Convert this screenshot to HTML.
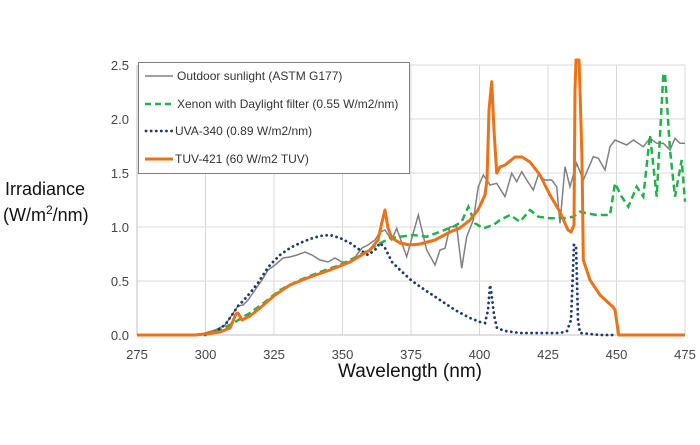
<!DOCTYPE html>
<html><head><meta charset="utf-8"><style>
body{margin:0;background:#fff;width:700px;height:440px;overflow:hidden}
svg{font-family:"Liberation Sans",sans-serif}
</style></head><body>
<svg width="700" height="440" viewBox="0 0 700 440">
<g stroke="#d9d9d9" stroke-width="1">
<line x1="137" y1="65" x2="685" y2="65"/><line x1="137" y1="119" x2="685" y2="119"/><line x1="137" y1="173" x2="685" y2="173"/><line x1="137" y1="227" x2="685" y2="227"/><line x1="137" y1="281" x2="685" y2="281"/>
<line x1="205.5" y1="65" x2="205.5" y2="335"/><line x1="274" y1="65" x2="274" y2="335"/><line x1="342.5" y1="65" x2="342.5" y2="335"/><line x1="411" y1="65" x2="411" y2="335"/><line x1="479.5" y1="65" x2="479.5" y2="335"/><line x1="548" y1="65" x2="548" y2="335"/><line x1="616.5" y1="65" x2="616.5" y2="335"/><line x1="685" y1="65" x2="685" y2="335"/>
</g>
<g stroke="#bfbfbf"><line x1="137" y1="65" x2="137" y2="335"/><line x1="137" y1="335" x2="685" y2="335"/></g>
<g fill="#444" font-size="13" text-anchor="end">
<text x="129" y="70">2.5</text><text x="129" y="124">2.0</text><text x="129" y="178">1.5</text><text x="129" y="232">1.0</text><text x="129" y="286">0.5</text><text x="129" y="340">0.0</text>
</g>
<g fill="#444" font-size="13" text-anchor="middle">
<text x="137" y="359">275</text><text x="205.5" y="359">300</text><text x="274" y="359">325</text><text x="342.5" y="359">350</text><text x="411" y="359">375</text><text x="479.5" y="359">400</text><text x="548" y="359">425</text><text x="616.5" y="359">450</text><text x="685" y="359">475</text>
</g>
<text x="410" y="377" font-size="19" text-anchor="middle" fill="#111">Wavelength (nm)</text>
<text x="5" y="195" font-size="18" fill="#111">Irradiance</text>
<text x="3" y="221" font-size="18" fill="#111">(W/m<tspan font-size="12" dy="-7">2</tspan><tspan dy="7">/nm)</tspan></text>
<polyline fill="none" stroke="#808080" stroke-width="1.5" points="195,335 205,333 215,330 225,325 232,315 238,306 243,305 248,300 255,290 262,280 268,270 275,265 283,258 290,257 297,255 305,252 312,255 320,260 328,262 335,258 342,262 350,262 356,256 362,248 368,245 375,240 380,232 385,230 391.7,240 396.7,228.3 406.7,256.7 418.3,215 426.7,250 435,265 440,250 445,248.3 450,226.7 456.7,226.7 461.7,268.3 466.7,236.7 473.3,220 478.3,186.7 483.3,175 490,185 496.7,183.3 505,196.7 511.7,173.3 516.7,181.7 521.7,171.7 526.7,180 533.3,190 538.3,175 545,180 551.7,180 556.7,186.7 560,223.3 565,166.7 570,186.7 576.7,163.3 583.3,180 593.3,156.7 598.3,158.3 605,170 610,146.7 615,140 626.7,145 633.3,140 643.3,146.7 650,138.3 656.7,143.3 663.3,143.3 670,150 675,138.3 680,143.3 685,143.3"/>
<polyline fill="none" stroke="#22b14c" stroke-width="2.5" stroke-dasharray="7,4" points="205,335 220,330 235,322 250,313 265,302 280,290 300,280 320,272 340,265 360,255 380,243.3 390,238.3 400,236.7 413.3,235 426.7,236.7 440,231.7 453.3,226.7 461.7,221.7 468.3,206.7 475,223.3 483.3,228.3 493.3,225 500,220 510,215 520,221.7 530,210 538.3,216.7 550,218.3 563.3,218.3 573.3,216.7 580,211.7 586.7,213.3 596.7,215 610,215 615,183.3 621.7,196.7 628.3,206.7 636.7,186.7 643.3,196.7 650,135 656.7,196.7 663.3,75 665,73.3 670,150 675,196.7 681.7,160 685,201.7"/>
<polyline fill="none" stroke="#1f3a6e" stroke-width="2.8" stroke-dasharray="0.1,5" stroke-linecap="round" points="205,335 215,332 225,325 232,315 238,306 244,300 250,293 258,283 265,272 270,265 280,255 290,248 300,243 310,239 320,236 330,235 340,238 350,243 360,250 368,255 375,250 380,243 385,248 392,262 400,270 412,281 425,290 440,300 455,310 470,318 480,322 485,323 488,310 490,285 491,290 494,315 497,328 505,331 520,333 560,333 567,331 571,320 574,245 576,245 578,320 580,333 600,335 617,335"/>
<polyline fill="none" stroke="#ec7117" stroke-width="3" stroke-linejoin="round" points="137,335 195,335 205,334 220,332 230,328 236,314 238,313 242,320 250,316 260,308 275,295 290,285 310,277 330,270 350,262 370,250 378,240 382,222 385,210 388,228 392,238 400,243 410,245 420,244 435,240 450,232 460,228 470,220 478,210 485,195 487,180 489,110 491.7,81.7 494,130 496.7,173 500,167 505,165 515,157 522,157 530,162 540,175 550,195 560,212 568,230 571,232 574,225 575,90 576,60 579,60 580,90 582,160 583.3,260 590,280 600,295 613,307 615,310 618.7,335 685,335"/>
<rect x="138.5" y="62.5" width="271" height="111" fill="#fff" stroke="#808080" stroke-width="1"/>
<g stroke-width="2.5">
<line x1="145" y1="76" x2="173" y2="76" stroke="#808080" stroke-width="1.5"/>
<line x1="145" y1="104" x2="173" y2="104" stroke="#22b14c" stroke-dasharray="6,4"/>
<line x1="146" y1="131" x2="173" y2="131" stroke="#1f3a6e" stroke-width="2.8" stroke-dasharray="0.1,5" stroke-linecap="round"/>
<line x1="145" y1="159" x2="173" y2="159" stroke="#ec7117" stroke-width="3"/>
</g>
<g fill="#333" font-size="12">
<text x="177" y="80">Outdoor sunlight (ASTM G177)</text>
<text x="177" y="108">Xenon with Daylight filter (0.55 W/m2/nm)</text>
<text x="175" y="135">UVA-340 (0.89 W/m2/nm)</text>
<text x="175" y="163">TUV-421 (60 W/m2 TUV)</text>
</g>
</svg>
</body></html>
